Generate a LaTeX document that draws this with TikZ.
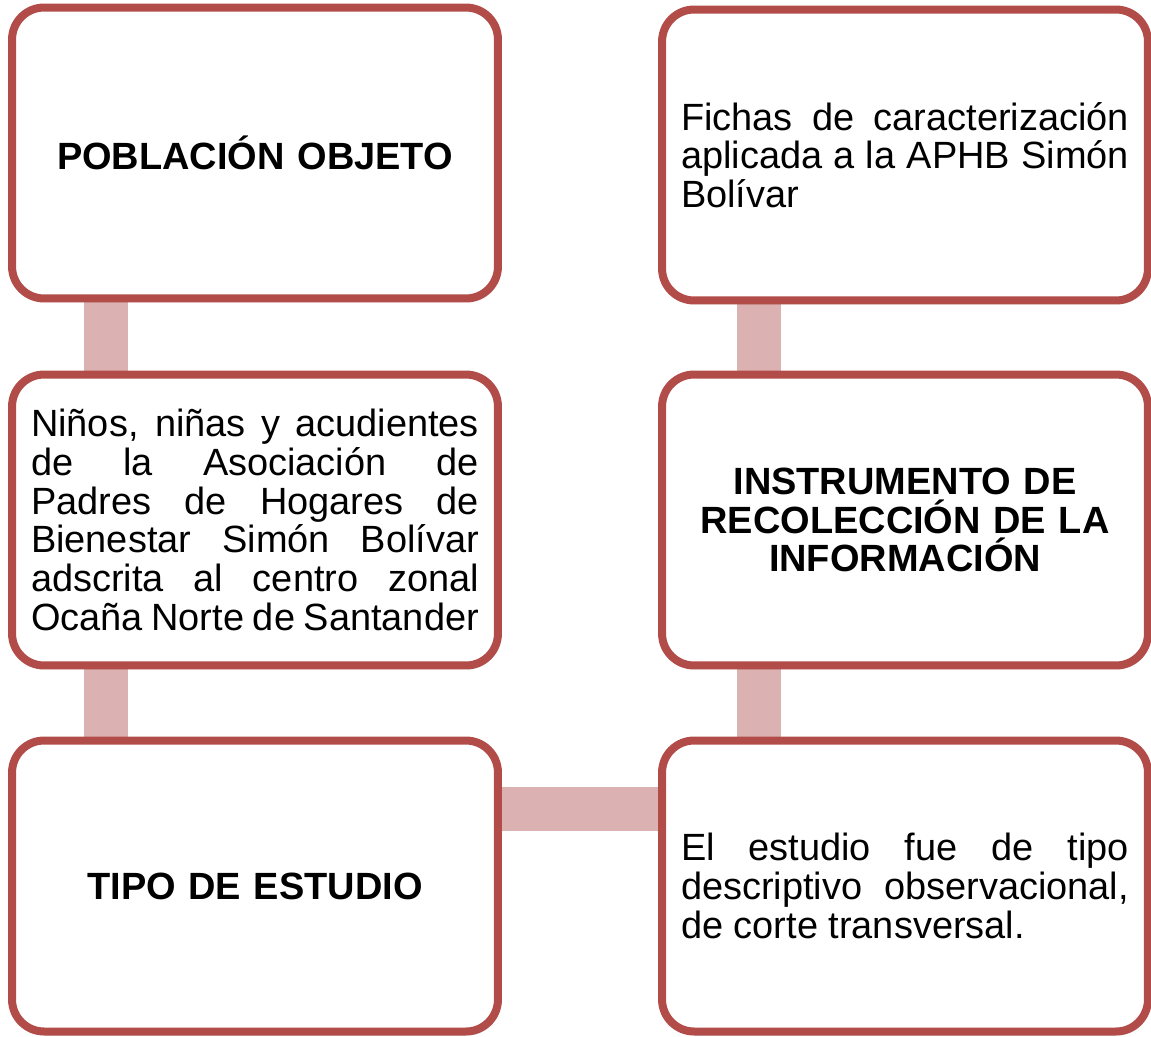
\documentclass[tikz,border=0pt]{standalone}
\usepackage{fontspec}
\setmainfont{Liberation Sans}
\usepackage{tikz}
\usetikzlibrary{calc,positioning,shadows}
\definecolor{borde}{HTML}{B24C49}
\definecolor{barra}{HTML}{DBB1B1}
\pgfdeclarelayer{background}
\pgfsetlayers{background,main}
\tikzset{
	caja/.style={
		rectangle,
		rounded corners=0.64cm,
		draw=borde, line width=0.16cm,
		fill=white,
		drop shadow={opacity=0.2, shadow xshift=0.04cm, shadow yshift=-0.08cm},
		minimum width=9.72cm,
		minimum height=5.82cm,
		text width=8.96cm,
		align=justify
	},
	titulo/.style={caja, align=center, font={\fontsize{21.6pt}{22pt}\selectfont\bfseries}},
	barra/.style={draw=barra, line width=0.88cm},
	font={\fontsize{21.6pt}{22pt}\selectfont},
}

\begin{document}
\begin{tikzpicture}[x=0.02cm,y=-0.02cm]
	\useasboundingbox (0,0) rectangle (1151,1036);
	\node[titulo] (pob) at (255,153) {POBLACIÓN OBJETO};
	\node[caja] (nin) at (255,520) {Niños, niñas y acudientes\linebreak de la Asociación de\linebreak Padres de Hogares de\linebreak Bienestar Simón Bolívar\linebreak adscrita al centro zonal\linebreak Ocaña Norte de Santander};
	\node[titulo] (tipo) at (255,886) {TIPO DE ESTUDIO};
	\node[caja] (fic) at (905,155) {Fichas de caracterización\linebreak aplicada a la APHB Simón\linebreak Bolívar};
	\node[titulo] (ins) at (905,520) {INSTRUMENTO DE\\ RECOLECCIÓN DE LA\\ INFORMACIÓN};
	\node[caja] (est) at (905,886) {El estudio fue de tipo\linebreak descriptivo observacional,\linebreak de corte transversal.};
	\begin{pgfonlayer}{background}
		\draw[barra] ([xshift=1.96cm]pob.south west) -- ([xshift=1.96cm]nin.north west);
		\draw[barra] ([xshift=1.96cm]nin.south west) -- ([xshift=1.96cm]tipo.north west);
		\draw[barra] ([xshift=2.02cm]fic.south west) -- ([xshift=2.02cm]ins.north west);
		\draw[barra] ([xshift=2.02cm]ins.south west) -- ([xshift=2.02cm]est.north west);
		\draw[barra] ([yshift=-1.45cm]tipo.north east) -- ([yshift=-1.45cm]est.north west);
	\end{pgfonlayer}
\end{tikzpicture}
\end{document}
